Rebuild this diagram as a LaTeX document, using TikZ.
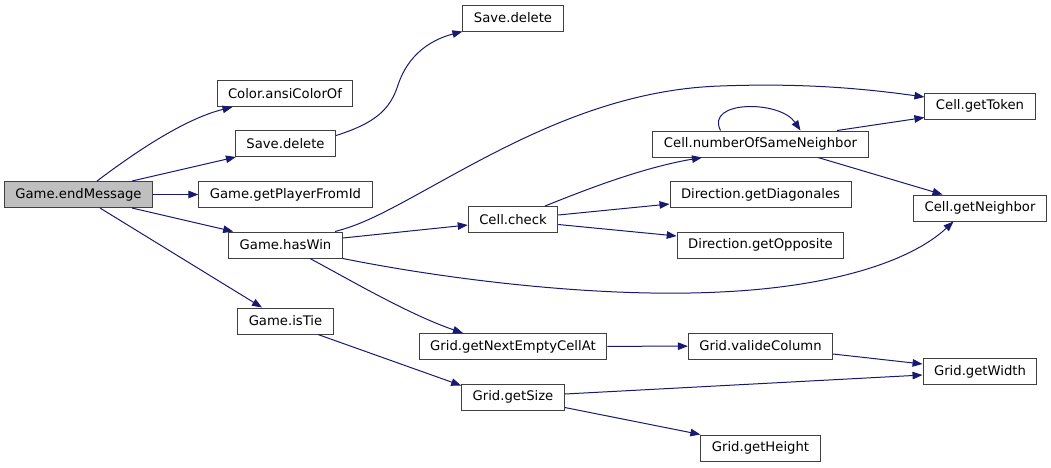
\documentclass[tikz,border=0pt]{standalone}
\usepackage{fontspec}
\setmainfont{DejaVu Sans}
\usetikzlibrary{arrows.meta}
\definecolor{edgeblue}{HTML}{191970}
\definecolor{boxgray}{HTML}{404040}
\definecolor{rootfill}{HTML}{BFBFBF}
\tikzset{
  fn/.style={draw=boxgray,line width=1pt,fill=white,inner xsep=11pt,inner ysep=0pt,minimum height=26pt,font=\fontsize{13.2}{15}\selectfont},
  root/.style={fn,fill=rootfill},
  call/.style={draw=edgeblue,line width=1pt,-{Triangle[length=10pt,width=7.5pt]}}
}

\begin{document}
\begin{tikzpicture}[x=1pt,y=-1pt]
\useasboundingbox (0,0) rectangle (1051,467);
\node[root] (endmsg) at (78.5,194.5) {Game.endMessage};
\node[fn] (ansi) at (285,93.5) {Color.ansiColorOf};
\node[fn] (savedel) at (285.5,143.5) {Save.delete};
\node[fn] (getplayer) at (285.5,194.5) {Game.getPlayerFromId};
\node[fn] (haswin) at (285.5,245) {Game.hasWin};
\node[fn] (istie) at (285.5,321) {Game.isTie};
\node[fn] (savedelb) at (513,18) {Save.delete};
\node[fn] (check) at (513,219.5) {Cell.check};
\node[fn] (nextempty) at (513,346.5) {Grid.getNextEmptyCellAt};
\node[fn] (getsize) at (513,397) {Grid.getSize};
\node[fn] (samenb) at (760.5,144) {Cell.numberOfSameNeighbor};
\node[fn] (diag) at (760.5,194.5) {Direction.getDiagonales};
\node[fn] (opposite) at (760.5,245) {Direction.getOpposite};
\node[fn] (valide) at (760.5,346) {Grid.valideColumn};
\node[fn] (height) at (760.5,448) {Grid.getHeight};
\node[fn] (token) at (980,106) {Cell.getToken};
\node[fn] (neighbor) at (980,208) {Cell.getNeighbor};
\node[fn] (width) at (980,371.5) {Grid.getWidth};

\draw[call] ([xshift=18.5pt]endmsg.north) .. controls (125,160) and (180,120) .. ([xshift=16pt]ansi.south west);
\draw[call] ([xshift=53.5pt]endmsg.north) -- ([xshift=1pt]savedel.south west);
\draw[call] (endmsg) -- (getplayer);
\draw[call] ([xshift=53.5pt]endmsg.south) -- ([xshift=5pt]haswin.north west);
\draw[call] ([xshift=21.5pt]endmsg.south) -- ([xshift=-23.5pt]istie.north);
\draw[call] ([yshift=8pt]savedel.east) .. controls (375,123) and (390,110) .. (398,85) .. controls (408,55) and (430,40) .. (savedelb.south west);
\draw[call] ([xshift=49.5pt]haswin.north) .. controls (360,225) and (380,215) .. (420,193) .. controls (500,149) and (600,90) .. (720,86) .. controls (800,83) and (860,88) .. ([yshift=9pt]token.west);
\draw[call] ([yshift=7pt]haswin.east) -- ([yshift=-5.5pt]check.west);
\draw[call] (haswin.south east) .. controls (450,280) and (600,298) .. (720,292) .. controls (830,287) and (910,262) .. ([xshift=-26.5pt]neighbor.south);
\draw[call] ([xshift=24.5pt]haswin.south) .. controls (350,280) and (410,315) .. ([xshift=-50pt]nextempty.north);
\draw[call] ([xshift=32.5pt]istie.south) -- ([yshift=-2pt]getsize.north west);
\draw[call] ([xshift=32pt]check.north) .. controls (580,192) and (640,168) .. ([xshift=-58.5pt]samenb.south);
\draw[call] ([yshift=4.5pt]check.east) -- ([yshift=-9.5pt]diag.west);
\draw[call] ([yshift=-5pt]check.east) -- ([yshift=9pt]opposite.west);
\draw[call] ([xshift=-40pt]samenb.north) .. controls (705,100) and (780,100) .. ([xshift=40pt]samenb.north);
\draw[call] ([xshift=76.5pt]samenb.north) -- ([yshift=2pt]token.south west);
\draw[call] ([xshift=57.5pt]samenb.south) -- ([xshift=-37.5pt]neighbor.north);
\draw[call] (nextempty) -- (valide);
\draw[call] ([yshift=-8pt]valide.east) -- ([yshift=7.5pt]width.west);
\draw[call] ([yshift=3pt]getsize.east) -- ([yshift=-3.5pt]width.west);
\draw[call] ([yshift=3pt]getsize.south east) -- (height.north west);
\end{tikzpicture}
\end{document}
